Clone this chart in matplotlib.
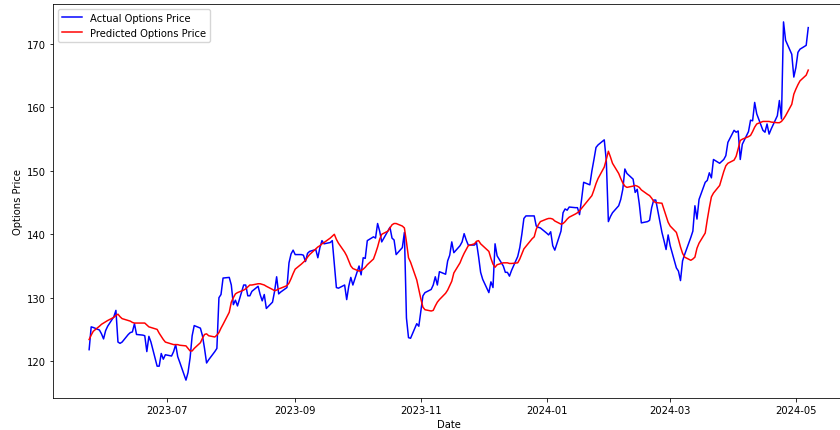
import numpy as np
import pandas as pd
import matplotlib
matplotlib.use('Agg')
import matplotlib.pyplot as plt
import matplotlib.dates as mdates

### DATA ###
dates = pd.bdate_range('2023-05-24', '2024-05-07')

actual = [
    121.8, 125.4, 125.3,
    124.9, 124.3, 123.5, 124.8, 125.5,
    127.0, 128.0, 123.0, 122.8, 123.0,
    124.2, 124.5, 124.6, 125.9, 124.2,
    124.1, 124.0, 121.5, 123.9, 123.0,
    119.2, 119.2, 121.2, 120.3, 121.0,
    120.8, 121.5, 122.6, 120.7, 119.8,
    117.0, 118.2, 120.5, 124.0, 125.6,
    125.2, 124.0, 122.0, 119.7, 120.2,
    121.5, 122.0, 130.0, 130.5, 133.1,
    133.2, 132.0, 128.9, 129.6, 128.7,
    132.0, 132.0, 130.3, 130.3, 131.0,
    131.8, 130.5, 129.5, 130.5, 128.3,
    129.3, 131.0, 133.3, 130.6, 130.9,
    131.6, 135.5, 136.9, 137.5, 136.8,
    136.8, 136.7, 135.7, 137.0, 137.3,
    137.6, 136.3, 137.9, 139.0, 138.5,
    138.7, 139.0, 135.3, 131.6, 131.5,
    132.0, 129.7, 131.8, 133.2, 132.0,
    135.0, 133.6, 136.3, 136.2, 139.0,
    139.6, 139.4, 141.7, 140.5, 138.8,
    140.5, 141.1, 139.4, 139.1, 136.8,
    137.9, 140.3, 126.8, 123.7, 123.6,
    125.9, 125.5, 127.9, 130.3, 130.8,
    131.3, 132.0, 133.3, 132.0, 134.1,
    133.7, 135.8, 136.7, 138.8, 137.1,
    138.2, 138.8, 140.1, 139.1, 138.3,
    138.3, 138.7, 136.5, 134.0, 132.9,
    130.8, 132.5, 131.6, 138.5, 136.6,
    135.0, 134.0, 134.0, 133.4, 134.3,
    136.5, 137.9, 140.0, 142.5, 142.9,
    142.9, 142.9, 141.3, 141.1, 141.0,
    140.2, 139.9, 140.4, 138.2, 137.5,
    140.5, 143.4, 144.0, 143.8, 144.3,
    144.2, 144.2, 143.1, 145.5, 148.2,
    147.8, 150.0, 151.8, 153.7, 154.1,
    154.9, 151.6, 142.0, 142.8, 143.4,
    144.5, 145.5, 147.1, 150.3, 149.6,
    148.7, 146.6, 147.1, 144.8, 141.8,
    142.0, 142.2, 144.2, 145.4, 145.4,
    140.3, 139.0, 137.6, 139.9, 138.2,
    134.7, 134.2, 132.7, 135.8, 136.8,
    139.5, 140.5, 144.5, 142.4, 145.5,
    148.2, 148.5, 149.7, 148.9, 151.8,
    151.2, 151.5, 151.8, 152.4, 154.5,
    156.4, 156.1, 156.3, 151.8, 154.2,
    156.2, 158.0, 157.9, 160.8, 159.0,
    156.4, 156.1, 157.4, 155.8, 156.6,
    158.7, 161.1, 158.2, 173.5, 170.6,
    168.4, 164.8, 166.3, 168.7, 169.2,
    169.8, 172.6,
]

predicted = [
    123.4, 124.1, 124.7,
    125.5, 125.8, 126.0, 126.2, 126.4,
    126.9, 127.2, 127.4, 127.0, 126.7,
    126.4, 126.3, 126.1, 126.0, 126.0,
    126.0, 126.0, 125.7, 125.4, 125.3,
    125.0, 124.4, 123.9, 123.4, 123.0,
    122.7, 122.6, 122.6, 122.6, 122.5,
    122.4, 122.0, 121.6, 121.6, 122.0,
    122.9, 123.6, 124.2, 124.3, 124.0,
    123.8, 124.1, 124.5, 125.2, 125.8,
    127.7, 129.3, 130.0, 130.6, 130.8,
    131.2, 131.4, 131.7, 132.0, 132.0,
    132.2, 132.2, 132.1, 132.0, 131.8,
    131.3, 131.1, 131.2, 131.4, 131.5,
    131.9, 132.3, 133.0, 133.8, 134.5,
    135.3, 135.6, 135.9, 136.4, 136.8,
    137.7, 138.0, 138.2, 138.5, 138.7,
    139.4, 139.7, 140.0, 139.2, 138.6,
    137.2, 136.6, 135.8, 135.0, 134.6,
    134.2, 134.3, 134.5, 134.8, 135.2,
    136.1, 137.0, 138.0, 139.2, 140.0,
    140.5, 141.0, 141.5, 141.7, 141.7,
    141.3, 141.0, 138.8, 136.3, 135.6,
    132.8, 131.3, 129.8, 128.5, 128.1,
    127.9, 128.0, 128.7, 129.3, 129.7,
    130.7, 131.2, 131.9, 132.6, 133.9,
    135.5, 136.3, 137.0, 137.6, 138.2,
    138.5, 138.9, 139.0, 138.5, 138.2,
    137.3, 136.2, 135.3, 134.8, 135.2,
    135.5, 135.5, 135.5, 135.4, 135.4,
    135.5, 136.1, 136.9, 137.7, 138.1,
    139.3, 139.6, 140.8, 141.5, 142.0,
    142.4, 142.5, 142.5, 142.4, 142.1,
    141.6, 141.7, 142.0, 142.4, 142.7,
    143.2, 143.4, 143.7, 144.1, 144.5,
    145.7, 146.1, 147.0, 148.0, 148.8,
    150.6, 151.8, 153.1, 152.2, 151.2,
    149.6, 148.8, 148.1, 147.6, 147.4,
    147.6, 147.7, 147.6, 147.4, 147.0,
    146.3, 146.1, 145.7, 145.2, 145.0,
    144.9, 143.9, 142.9, 141.9, 141.3,
    140.3, 139.2, 138.0, 137.0, 136.4,
    135.9, 136.1, 136.4, 137.8, 138.6,
    140.2, 142.3, 144.2, 145.9, 146.5,
    147.7, 148.8, 149.9, 150.8, 151.2,
    151.7, 152.3, 153.5, 154.8, 155.0,
    155.4, 155.6, 156.2, 156.9, 157.4,
    157.8, 157.8, 157.8, 157.8, 157.7,
    157.6, 157.6, 157.8, 158.2, 158.7,
    160.5, 162.1, 162.9, 163.6, 164.2,
    165.1, 165.9,
]

### STYLE ###
# everything scaled down from matplotlib defaults
s = 0.72
plt.rcParams['font.size'] = 10 * s
plt.rcParams['axes.linewidth'] = 0.8 * s
plt.rcParams['axes.labelpad'] = 4 * s
plt.rcParams['xtick.major.size'] = 3.5 * s
plt.rcParams['ytick.major.size'] = 3.5 * s
plt.rcParams['xtick.major.width'] = 0.8 * s
plt.rcParams['ytick.major.width'] = 0.8 * s
plt.rcParams['xtick.major.pad'] = 3.5 * s
plt.rcParams['ytick.major.pad'] = 3.5 * s

### PLOT ###
fig = plt.figure(figsize=(8.4, 4.31), dpi=100)
ax = fig.add_axes([0.0633, 0.0742, 0.9417, 0.9142])
ax.plot(dates, actual, color='blue', linewidth=1.5 * s, label='Actual Options Price')
ax.plot(dates, predicted, color='red', linewidth=1.5 * s, label='Predicted Options Price')
ax.xaxis.set_major_locator(mdates.MonthLocator(bymonth=[1, 3, 5, 7, 9, 11]))
ax.xaxis.set_major_formatter(mdates.DateFormatter('%Y-%m'))
ax.set_xlabel('Date')
ax.set_ylabel('Options Price')
ax.legend(loc='upper left')

fig.savefig('out.png', dpi=100)
